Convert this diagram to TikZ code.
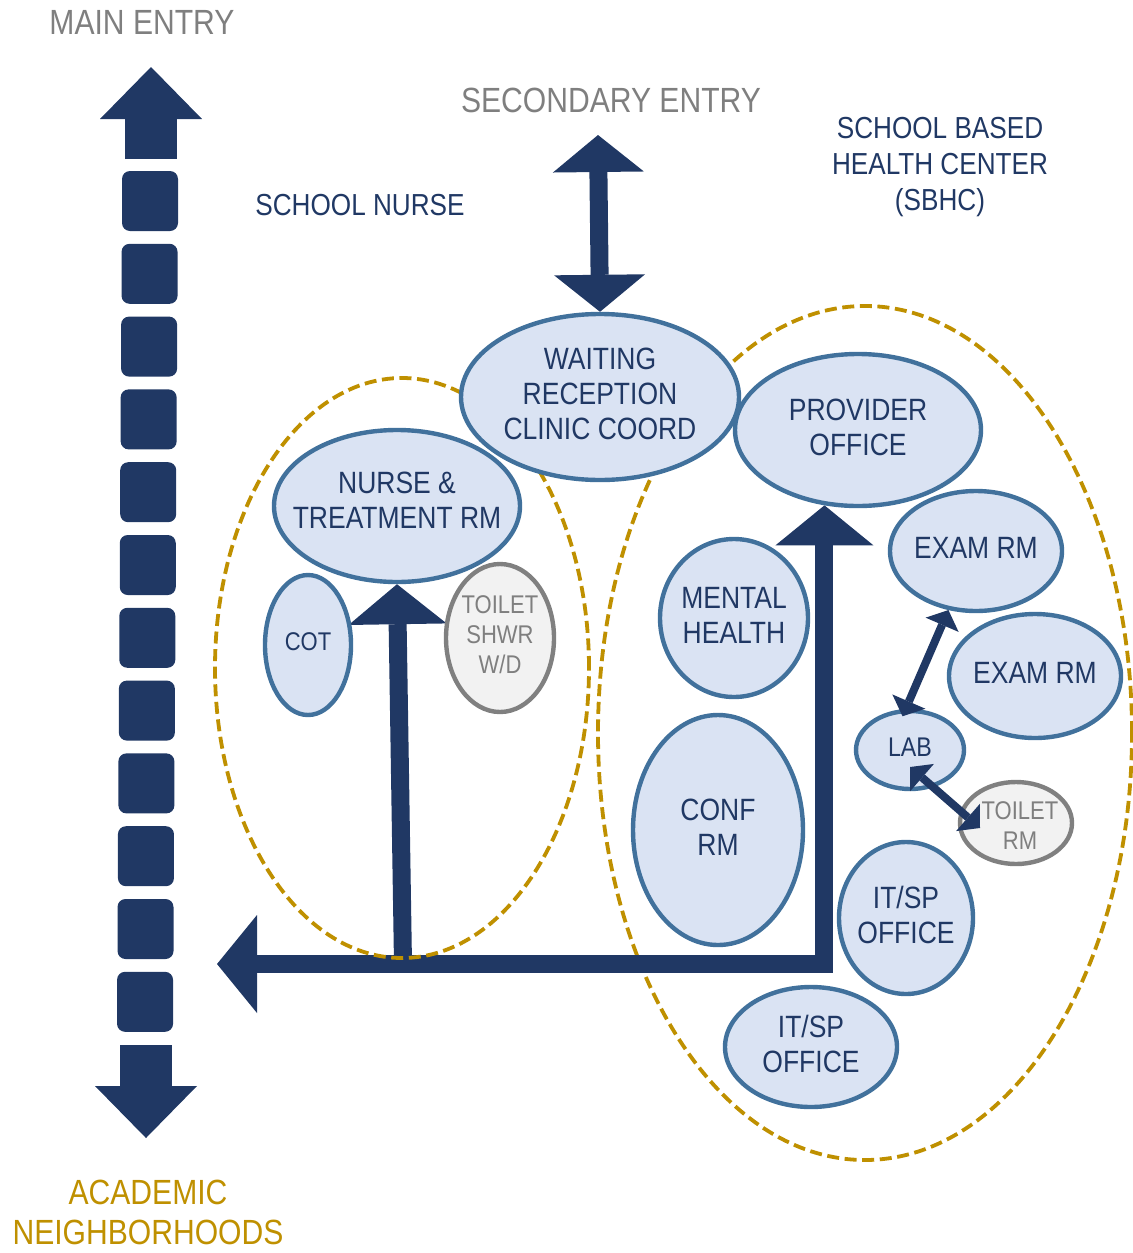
\documentclass[tikz,border=0pt]{standalone}
\usepackage{fontspec}
\setmainfont[FakeStretch=0.86]{Liberation Sans}
\usetikzlibrary{arrows.meta,shapes.geometric,backgrounds}

\definecolor{navy}{HTML}{203864}
\definecolor{roomedge}{HTML}{41719C}
\definecolor{roomfill}{HTML}{DAE3F3}
\definecolor{zonegold}{HTML}{BF9000}
\definecolor{wetedge}{HTML}{808080}
\definecolor{wetfill}{HTML}{F2F2F2}
\definecolor{entrygray}{HTML}{7F7F7F}

\tikzset{
  room/.style 2 args={ellipse, draw=roomedge, fill=roomfill, line width=2.2pt,
    inner sep=0pt, minimum width=#1pt, minimum height=#2pt},
  wetroom/.style 2 args={room={#1}{#2}, draw=wetedge, fill=wetfill},
  zone/.style={draw=zonegold, line width=1.9pt, dash pattern=on 6pt off 2.8pt},
  roomtext/.style={text=navy, align=center, inner sep=0pt, yshift=1.5pt,
    font=\fontsize{15.4}{17.5}\selectfont},
  smalltext/.style={roomtext, font=\fontsize{12.8}{15}\selectfont},
  wettext/.style={smalltext, text=entrygray},
  heading/.style={text=navy, align=center, inner sep=0pt,
    font=\fontsize{15.2}{18}\selectfont},
  entry/.style={text=entrygray, align=center, inner sep=0pt,
    font=\fontsize{17.5}{20}\selectfont},
  hall/.style={draw=navy, line width=26pt,
    -{Triangle[length=26pt,width=51pt,line width=0pt]}},
  corridor/.style={draw=navy, line width=9pt, line join=miter,
    >={Triangle[length=20pt,width=49pt,line width=0pt]}},
  link/.style={draw=navy, line width=4pt, <->,
    >={Triangle[length=8pt,width=18pt,line width=0pt]}}
}

\begin{document}
\begin{tikzpicture}[x=0.5pt, y=-0.5pt]
  \useasboundingbox (0,0) rectangle (1132,1253);

  % main hallway, blocks between the two entry arrows
  \draw [hall] (151,159) -- (151,67);
  \foreach \i in {0,...,11}
    \fill [navy, rounded corners=4pt] ({122-0.45*\i},{171+72.8*\i}) rectangle +(56,60);
  \draw [hall] (146,1045) -- (146,1138);

  % rooms
  \node [room={139}{83}] (waiting) at (600,397) {};
  \node [room={123}{76}] (nurse) at (397,506) {};
  \node [room={123}{76}] (provider) at (858,430) {};
  \node [room={43}{70}] (cot) at (308,645) {};
  \node [wetroom={54}{74}] (shower) at (500,638) {};
  \node [room={74}{79}] (mental) at (734,618) {};
  \node [room={85}{115}] (conf) at (718,830) {};
  \node [room={86}{60}] (exam1) at (976,551) {};
  \node [room={86}{62}] (exam2) at (1035,676) {};
  \node [room={54}{39}] (lab) at (910,750) {};
  \node [wetroom={56}{41}] (wc) at (1016,823) {};
  \node [room={67}{76}] (itsp1) at (906,918) {};
  \node [room={86}{60}] (itsp2) at (811,1047) {};

  % zones and corridors stay behind the rooms
  \begin{pgfonlayer}{background}
    \draw [zone] (865,733) ellipse [x radius=133.5pt, y radius=213.5pt];
    \coordinate (hallwest) at (217,964);
    \coordinate (nursefoot) at (403,964);
    \coordinate (secondtop) at (598,135);
    \draw [corridor, <->] (hallwest) -| (provider.246);
    \draw [corridor, ->] (nursefoot) -- (nurse.south);
    \draw [corridor, <->, >={Triangle[length=18.5pt,width=45.5pt,line width=0pt]}]
      (secondtop) -- (waiting.north);
    \draw [zone] (402,668) ellipse [x radius=93.5pt, y radius=145pt];
  \end{pgfonlayer}

  % links between rooms
  \draw [link, shorten >=-4pt] (exam1.245) -- (lab.96);
  \draw [link] ([yshift=-8.5pt]lab.center) -- ([xshift=-18pt,yshift=-2.5pt]wc.center);

  % room names
  \node [roomtext] (waitingtxt) at (waiting) {WAITING\\RECEPTION\\CLINIC COORD};
  \node [roomtext, yshift=1.5pt] (nursetxt) at (nurse) {NURSE \&\\TREATMENT RM};
  \node [roomtext] (providertxt) at (provider) {PROVIDER\\OFFICE};
  \node [smalltext] (cottxt) at (cot) {COT};
  \node [wettext] (showertxt) at (shower) {TOILET\\SHWR\\W/D};
  \node [roomtext] (mentaltxt) at (mental) {MENTAL\\HEALTH};
  \node [roomtext] (conftxt) at (conf) {CONF\\RM};
  \node [roomtext] (exam1txt) at (exam1) {EXAM RM};
  \node [roomtext] (exam2txt) at (exam2) {EXAM RM};
  \node [smalltext, font=\fontsize{13.5}{15}\selectfont] (labtxt) at (lab) {LAB};
  \node [wettext] (wctxt) at ([xshift=2pt,yshift=-3pt]wc.center) {TOILET\\RM};
  \node [roomtext] (itsp1txt) at (itsp1) {IT/SP\\OFFICE};
  \node [roomtext] (itsp2txt) at (itsp2) {IT/SP\\OFFICE};

  % headings
  \node [entry] (mainlbl) at (142,22) {MAIN ENTRY};
  \node [entry] (secondlbl) at (611,100) {SECONDARY ENTRY};
  \node [heading] (nurselbl) at (360,205) {SCHOOL NURSE};
  \node [heading] (sbhclbl) at (940,167) {SCHOOL BASED\\HEALTH CENTER\\(SBHC)};
  \node [entry, text=zonegold] (academiclbl) at (148,1212) {ACADEMIC\\NEIGHBORHOODS};
\end{tikzpicture}
\end{document}
